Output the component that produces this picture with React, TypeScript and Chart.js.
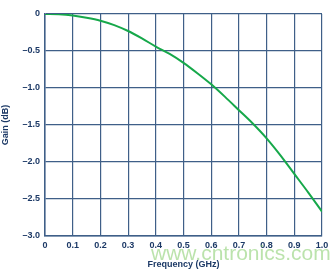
import React, { useEffect, useRef } from "react";
import { Chart, registerables } from "chart.js";

Chart.register(...registerables);

const frequencyGHz = [0, 0.05, 0.1, 0.15, 0.2, 0.25, 0.3, 0.35, 0.4, 0.45, 0.5, 0.55, 0.6, 0.65, 0.7, 0.75, 0.8, 0.85, 0.9, 0.95, 1.0];
const gainDb = [0, -0.004, -0.02, -0.05, -0.09, -0.15, -0.23, -0.33, -0.44, -0.54, -0.66, -0.8, -0.95, -1.12, -1.3, -1.48, -1.68, -1.91, -2.16, -2.41, -2.67];
const xTickLabels = ["0", "0.1", "0.2", "0.3", "0.4", "0.5", "0.6", "0.7", "0.8", "0.9", "1.0"];
const yTickLabels = ["0", "–0.5", "–1.0", "–1.5", "–2.0", "–2.5", "–3.0"];

const NAVY = "#1c3966";
const GRID = "#3f5f88";
const GREEN = "#16a84a";
const FONT = "'Liberation Sans', Arial, sans-serif";

export default function App() {
  const ref = useRef<HTMLCanvasElement | null>(null);
  useEffect(() => {
    if (!ref.current) return;
    const chart = new Chart(ref.current, {
      type: "line",
      data: {
        datasets: [
          {
            data: frequencyGHz.map((x, i) => ({ x, y: gainDb[i] })),
            borderColor: GREEN,
            borderWidth: 2,
            pointRadius: 0,
            cubicInterpolationMode: "monotone",
            fill: false,
          },
        ],
      },
      options: {
        animation: false,
        responsive: false,
        devicePixelRatio: 1,
        plugins: { legend: { display: false }, tooltip: { enabled: false } },
        layout: { padding: { left: 0, right: 14, top: 14, bottom: 0 } },
        scales: {
          x: {
            type: "linear",
            min: 0,
            max: 1,
            afterFit: (s: any) => { s.height = 34; },
            ticks: {
              stepSize: 0.1,
              color: NAVY,
              padding: 4,
              maxRotation: 0,
              font: { family: FONT, size: 9, weight: "bold" },
              callback: (_v: any, i: number) => xTickLabels[i],
            },
            grid: { color: GRID, lineWidth: 1.2, drawTicks: false },
            border: { color: GRID, width: 1.5 },
            title: {
              display: true,
              text: "Frequency (GHz)",
              color: NAVY,
              font: { family: FONT, size: 9, weight: "bold" },
              padding: { top: 3, bottom: 0 },
            },
          },
          y: {
            type: "linear",
            min: -3,
            max: 0,
            afterFit: (s: any) => { s.width = 45; },
            ticks: {
              stepSize: 0.5,
              color: NAVY,
              padding: 5,
              font: { family: FONT, size: 9, weight: "bold" },
              callback: (_v: any, i: number, ticks: any[]) => yTickLabels[ticks.length - 1 - i],
            },
            grid: { color: GRID, lineWidth: 1.2, drawTicks: false },
            border: { color: GRID, width: 1.5 },
            title: {
              display: true,
              text: "Gain (dB)",
              color: NAVY,
              font: { family: FONT, size: 9, weight: "bold" },
              padding: { top: 0, bottom: 0 },
            },
          },
        },
      },
    });
    return () => chart.destroy();
  }, []);
  return (
    <div style={{ position: "fixed", left: 0, top: 0, width: 336, height: 270, background: "#fff" }}>
      <canvas ref={ref} width={336} height={270} style={{ width: 336, height: 270 }} />
      <div
        style={{
          position: "absolute",
          left: 151,
          top: 241,
          fontFamily: FONT,
          fontSize: 21,
          color: "rgba(120, 200, 90, 0.5)",
          whiteSpace: "nowrap",
          pointerEvents: "none",
        }}
      >
        www.cntronics.com
      </div>
    </div>
  );
}
